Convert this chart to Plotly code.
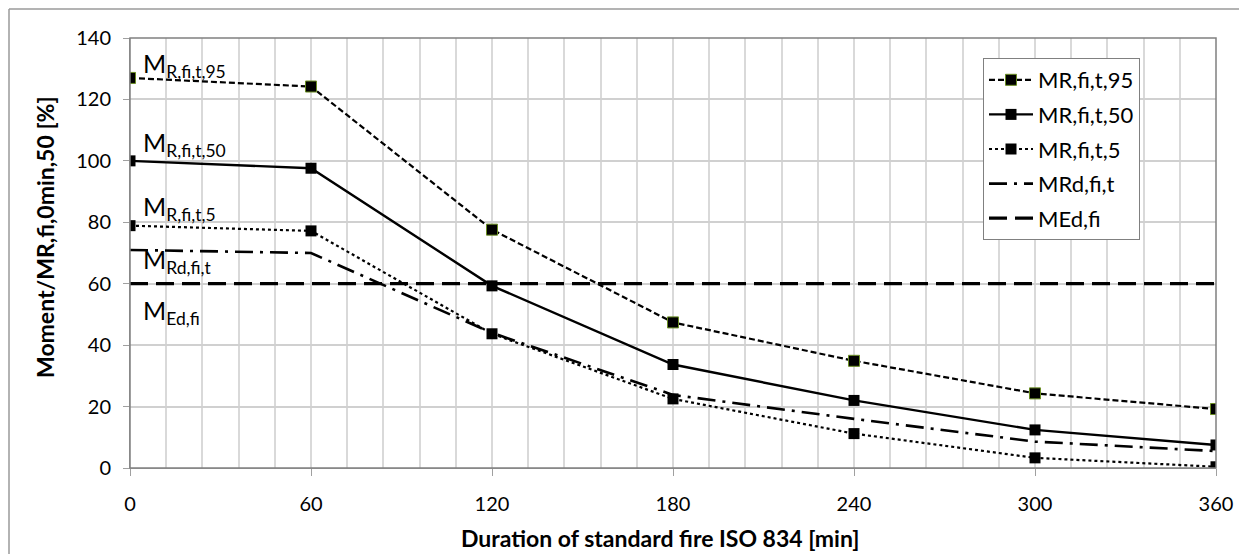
import plotly.graph_objects as go

time_min = [0, 60, 120, 180, 240, 300, 360]
mr_95 = [127.0, 124.2, 77.6, 47.4, 34.9, 24.3, 19.2]
mr_50 = [100.0, 97.6, 59.3, 33.7, 22.0, 12.4, 7.5]
mr_5 = [78.9, 77.2, 43.7, 22.5, 11.2, 3.3, 0.4]
mrd = [71.0, 70.0, 44.0, 23.8, 16.0, 8.6, 5.5]
med = [60.0, 60.0, 60.0, 60.0, 60.0, 60.0, 60.0]

FONT = "Lato"

fig = go.Figure()

fig.add_trace(go.Scatter(x=time_min, y=mr_95, name="MR,fi,t,95", mode="lines+markers",
                         line=dict(color="black", width=2.2, dash="6px,3px"),
                         marker=dict(symbol="square", size=11, color="black",
                                     line=dict(color="#6b8e23", width=1)),
                         legendgroup="a"))
fig.add_trace(go.Scatter(x=time_min, y=mr_50, name="MR,fi,t,50", mode="lines+markers",
                         line=dict(color="black", width=2.4),
                         marker=dict(symbol="square", size=11, color="black"),
                         legendgroup="b"))
fig.add_trace(go.Scatter(x=time_min, y=mr_5, name="MR,fi,t,5", mode="lines+markers",
                         line=dict(color="black", width=2.2, dash="dot"),
                         marker=dict(symbol="square", size=11, color="black"),
                         legendgroup="c"))
fig.add_trace(go.Scatter(x=time_min, y=mrd, name="MRd,fi,t", mode="lines",
                         line=dict(color="black", width=2.6, dash="18px,7px,3px,7px"),
                         legendgroup="d"))
fig.add_trace(go.Scatter(x=time_min, y=med, name="MEd,fi", mode="lines",
                         line=dict(color="black", width=3.2, dash="18px,8px"),
                         legendgroup="e"))

labels = [
    ("M<sub>R,fi,t,95</sub>", 131.3),
    ("M<sub>R,fi,t,50</sub>", 105.5),
    ("M<sub>R,fi,t,5</sub>", 84.5),
    ("M<sub>Rd,fi,t</sub>", 67.4),
    ("M<sub>Ed,fi</sub>", 50.8),
]
for txt, yv in labels:
    fig.add_annotation(x=3.5, y=yv, text=txt, showarrow=False, xanchor="left",
                       yanchor="middle", font=dict(family=FONT, size=25, color="black"))

# y-axis title (placed like the reference, slightly above centre)
fig.add_annotation(xref="paper", yref="paper", x=(45 - 130) / 1086, y=(468 - 237) / 430,
                   text="<b>Moment/MR,fi,0min,50 [%]</b>", textangle=-90, showarrow=False,
                   xanchor="center", yanchor="middle", font=dict(family=FONT, size=23))

# x-axis title
fig.add_annotation(xref="paper", yref="paper", x=(660 - 130) / 1086, y=(468 - 538) / 430,
                   text="<b>Duration of standard fire ISO 834 [min]</b>", showarrow=False,
                   xanchor="center", yanchor="middle", font=dict(family=FONT, size=23))

# outer chart border (left and top visible)
fig.add_shape(type="line", xref="paper", yref="paper",
              x0=(9 - 130) / 1086, x1=(1245 - 130) / 1086,
              y0=(468 - 9) / 430, y1=(468 - 9) / 430,
              line=dict(color="#9a9a9a", width=1.5))
fig.add_shape(type="line", xref="paper", yref="paper",
              x0=(9 - 130) / 1086, x1=(9 - 130) / 1086,
              y0=(468 - 9) / 430, y1=(468 - 560) / 430,
              line=dict(color="#9a9a9a", width=1.5))

fig.update_layout(
    width=1239, height=554,
    margin=dict(l=130, r=23, t=38, b=86),
    paper_bgcolor="white", plot_bgcolor="white",
    font=dict(family=FONT, size=20, color="black"),
    showlegend=True,
    legend=dict(x=(983 - 130) / 1086, y=(468 - 58) / 430, xanchor="left", yanchor="top",
                bordercolor="#808080", borderwidth=1, bgcolor="white",
                font=dict(family=FONT, size=22), tracegroupgap=3,
                itemwidth=44),
    xaxis=dict(range=[0, 360], tickmode="array", tickvals=time_min,
               ticktext=[str(v) for v in time_min], automargin=False,
               showgrid=False, ticks="outside", ticklen=7, tickcolor="#a0a0a0",
               ticklabelstandoff=11,
               showline=True, linecolor="#a0a0a0", linewidth=1, mirror=False,
               zeroline=False,
               minor=dict(dtick=12, showgrid=True, gridcolor="#d9d9d9", gridwidth=1.5)),
    yaxis=dict(range=[0, 140], dtick=20, showgrid=True, gridcolor="#d0d0d0", gridwidth=1.5,
               automargin=False,
               ticks="outside", ticklen=6, tickcolor="#a0a0a0", ticklabelstandoff=8,
               showline=True, linecolor="#a0a0a0", linewidth=1, zeroline=False),
)

# plot-area frame
fig.add_shape(type="rect", xref="paper", yref="paper", x0=0, x1=1, y0=0, y1=1,
              line=dict(color="#808080", width=1.5), layer="above")

fig.write_html("out.html")
